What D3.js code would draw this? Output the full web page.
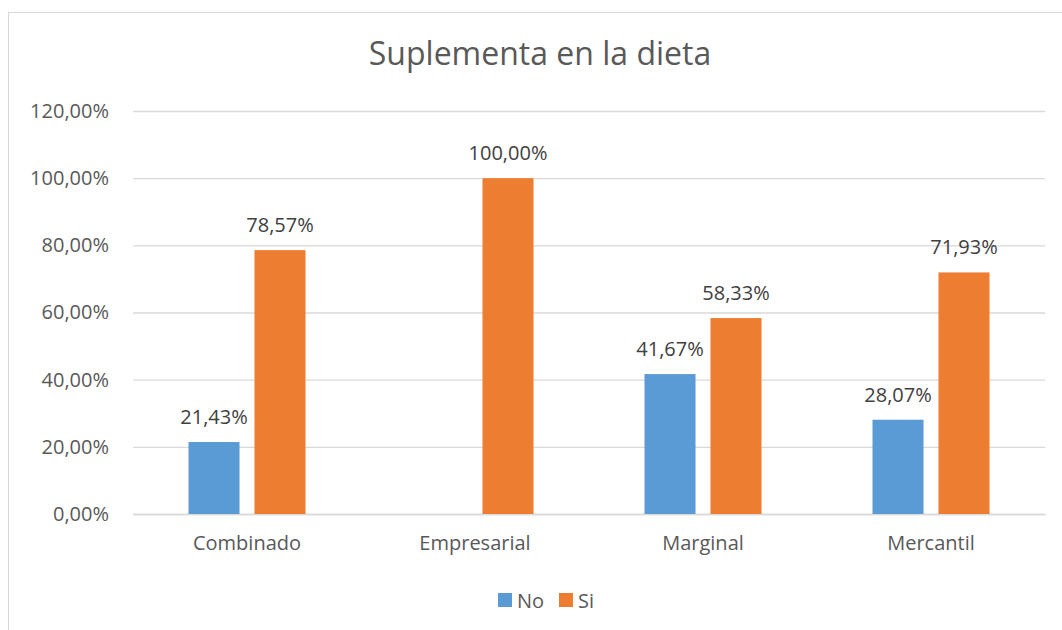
<!DOCTYPE html>
<html>
<head>
<meta charset="utf-8">
<script src="https://cdn.jsdelivr.net/npm/d3@7"></script>
<style>
    body { margin: 0; background: #fff; }
    svg { display: block; font-family: "Open Sans", sans-serif; }
</style>
</head>
<body>
<div id="chart"></div>
<script>
var chartTitle = "Suplementa en la dieta";
var categories = ["Combinado", "Empresarial", "Marginal", "Mercantil"];
var seriesNames = ["No", "Si"];
var noValues = [0.2143, null, 0.4167, 0.2807];
var siValues = [0.7857, 1.0, 0.5833, 0.7193];
var yTicks = [0, 0.2, 0.4, 0.6, 0.8, 1.0, 1.2];
var seriesColors = ["#5b9bd5", "#ed7d31"];

var width = 1062, height = 630;
var plot = { left: 133, right: 1045, top: 111, bottom: 514 };

var svg = d3.select("#chart").append("svg")
    .attr("width", width).attr("height", height);

// chart frame (runs off the right and bottom edge in the reference)
svg.append("rect")
    .attr("x", 8.5).attr("y", 12.5)
    .attr("width", width + 20).attr("height", height + 20)
    .attr("fill", "#fff").attr("stroke", "#d9d9d9");

svg.append("text")
    .attr("x", 540).attr("y", 65)
    .attr("text-anchor", "middle")
    .attr("font-size", 32)
    .attr("fill", "#595959")
    .text(chartTitle);

var y = d3.scaleLinear().domain([0, 1.2]).range([plot.bottom, plot.top]);
var x0 = d3.scaleBand().domain(categories).range([plot.left, plot.right]);
var x1 = d3.scaleBand().domain(seriesNames).range([0, x0.bandwidth()])
    .paddingInner(0.227).paddingOuter(0.841);

var pct = function (v) {
    return d3.format(".2f")(v * 100).replace(".", ",") + "%";
};

// gridlines + y tick labels
var yAxis = d3.axisLeft(y).tickValues(yTicks).tickFormat(pct)
    .tickSize(-(plot.right - plot.left)).tickPadding(24);
var yg = svg.append("g").attr("transform", "translate(" + plot.left + ",0)").call(yAxis);
yg.select(".domain").remove();
yg.selectAll(".tick line").attr("stroke", "#d9d9d9").attr("stroke-width", 1.3);
yg.selectAll(".tick text").attr("font-size", 20).attr("fill", "#595959")
    .attr("font-family", "Open Sans, sans-serif");

// category axis
var xAxis = d3.axisBottom(x0).tickSize(0).tickPadding(22);
var xg = svg.append("g").attr("transform", "translate(0," + plot.bottom + ")").call(xAxis);
xg.select(".domain").attr("stroke", "#d9d9d9").attr("stroke-width", 1.3);
xg.selectAll(".tick text").attr("font-size", 20).attr("fill", "#595959")
    .attr("font-family", "Open Sans, sans-serif");

var rows = categories.map(function (c, i) {
    return { category: c, values: [noValues[i], siValues[i]] };
});

var groups = svg.selectAll("g.cat").data(rows).enter().append("g")
    .attr("class", "cat")
    .attr("transform", function (d) { return "translate(" + x0(d.category) + ",0)"; });

var cells = groups.selectAll("g.bar").data(function (d) {
    return d.values.map(function (v, i) { return { series: seriesNames[i], value: v, index: i }; })
        .filter(function (e) { return e.value != null; });
}).enter().append("g").attr("class", "bar");

cells.append("rect")
    .attr("x", function (d) { return x1(d.series); })
    .attr("width", x1.bandwidth())
    .attr("y", function (d) { return y(d.value); })
    .attr("height", function (d) { return y(0) - y(d.value); })
    .attr("fill", function (d) { return seriesColors[d.index]; });

cells.append("text")
    .attr("x", function (d) { return x1(d.series) + x1.bandwidth() / 2; })
    .attr("y", function (d) { return y(d.value) - 18; })
    .attr("text-anchor", "middle")
    .attr("font-size", 20)
    .attr("fill", "#404040")
    .text(function (d) { return pct(d.value); });

// legend
var legend = svg.append("g").attr("transform", "translate(498,593)");
var items = legend.selectAll("g").data(seriesNames).enter().append("g")
    .attr("transform", function (d, i) { return "translate(" + (i * 61) + ",0)"; });
items.append("rect").attr("width", 14).attr("height", 14)
    .attr("fill", function (d, i) { return seriesColors[i]; });
items.append("text").attr("x", 19).attr("y", 14.5)
    .attr("font-size", 20).attr("fill", "#595959")
    .text(function (d) { return d; });
</script>
</body>
</html>
